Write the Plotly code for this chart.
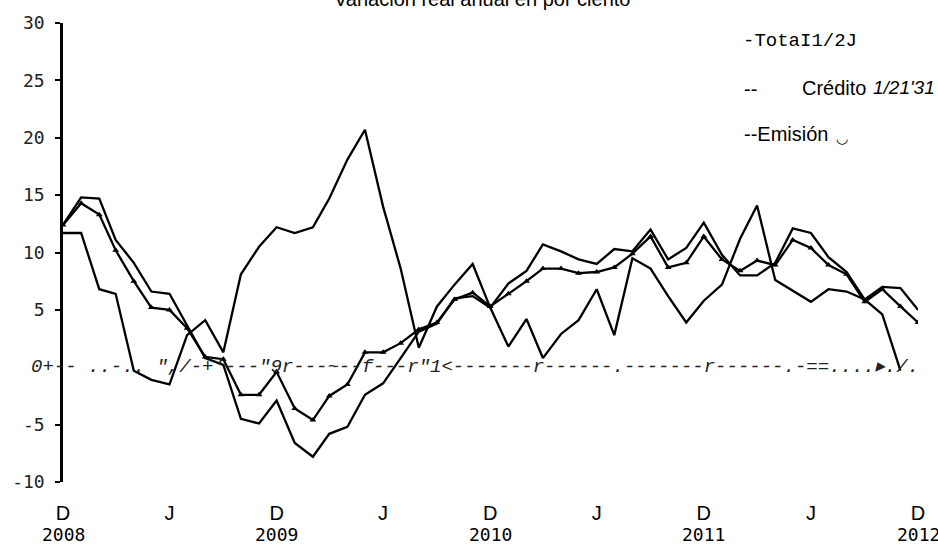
import pandas as pd
import plotly.graph_objects as go

months = pd.date_range("2008-12-01", periods=49, freq="MS")

total = [12.4, 14.3, 13.3, 10.2, 7.5, 5.2, 5.0, 3.4, 0.9, 0.7,
         -2.4, -2.4, -0.4, -3.6, -4.6, -2.5, -1.5, 1.3, 1.3, 2.1,
         3.3, 3.9, 5.9, 6.5, 5.3, 6.4, 7.5, 8.6, 8.6, 8.2,
         8.3, 8.7, 9.9, 11.4, 8.7, 9.1, 11.4, 9.4, 8.4, 9.3,
         8.9, 11.1, 10.4, 8.9, 8.1, 5.7, 6.8, 5.3, 3.9]

credito = [12.4, 14.8, 14.7, 11.1, 9.1, 6.6, 6.4, 3.7, 0.8, 0.2,
           -4.5, -4.9, -2.9, -6.6, -7.8, -5.8, -5.2, -2.4, -1.4, 0.8,
           3.1, 3.8, 6.0, 6.2, 5.2, 7.3, 8.4, 10.7, 10.1, 9.4,
           9.0, 10.3, 10.1, 12.0, 9.4, 10.4, 12.6, 9.8, 8.0, 8.0,
           9.1, 12.1, 11.7, 9.6, 8.3, 5.9, 7.0, 6.9, 5.0]

emision = [11.7, 11.7, 6.8, 6.4, -0.3, -1.1, -1.5, 2.8, 4.1, 1.3,
           8.1, 10.5, 12.2, 11.7, 12.2, 14.7, 18.1, 20.7, 14.0, 8.6,
           1.7, 5.3, 7.2, 9.0, 5.2, 1.8, 4.2, 0.8, 2.9, 4.1,
           6.8, 2.8, 9.5, 8.6, 6.2, 3.9, 5.8, 7.2, 11.2, 14.1,
           7.6, 6.7, 5.7, 6.8, 6.6, 5.9, 4.6, -0.3, None]

tick_dates = ["2008-12-01", "2009-06-01", "2009-12-01", "2010-06-01", "2010-12-01",
              "2011-06-01", "2011-12-01", "2012-06-01", "2012-12-01"]
tick_text = ["D", "J", "D", "J", "D", "J", "D", "J", "D"]
year_dates = ["2008-12-01", "2009-12-01", "2010-12-01", "2011-12-01", "2012-12-01"]
year_text = ["2008", "2009", "2010", "2011", "2012"]
y_ticks = [30, 25, 20, 15, 10, 5, -5, -10]

title = "Variación real anual en por ciento"
zero_text = ("0+--\u00a0..-..\u00a0\",/-+'---\"9r---~--f---r\"1<-------r------.-------r------.-==....▸./.")

W, H = 938, 546
L, R, T, B = 56, 20, 20, 64


def px(xp):
    return (xp - L) / (W - L - R)


def py(yp):
    return (H - B - yp) / (H - T - B)


fig = go.Figure()
line_style = dict(color="black", width=2.3)
fig.add_trace(go.Scatter(x=months, y=credito, mode="lines", line=line_style,
                         name="Crédito", showlegend=False))
fig.add_trace(go.Scatter(x=months, y=emision, mode="lines", line=line_style,
                         name="Emisión", showlegend=False, connectgaps=False))
fig.add_trace(go.Scatter(x=months, y=total, mode="lines+markers", line=line_style,
                         marker=dict(symbol="triangle-up", size=6, color="black"),
                         name="Total", showlegend=False))

ann = []
ann.append(dict(text=title, xref="paper", yref="paper", x=px(478), y=py(9),
                xanchor="center", yanchor="bottom", showarrow=False,
                font=dict(family="Liberation Sans", size=20, color="black")))
ann.append(dict(text="-TotaI1/2J", xref="paper", yref="paper", x=px(740), y=py(38),
                xanchor="left", yanchor="middle", showarrow=False,
                font=dict(family="Liberation Mono", size=19, color="black")))
ann.append(dict(text="--", xref="paper", yref="paper", x=px(741), y=py(86),
                xanchor="left", yanchor="middle", showarrow=False,
                font=dict(family="Liberation Sans", size=20, color="black")))
ann.append(dict(text="Crédito", xref="paper", yref="paper", x=px(799), y=py(85),
                xanchor="left", yanchor="middle", showarrow=False,
                font=dict(family="Liberation Sans", size=20, color="black")))
ann.append(dict(text="<i>1/21'31</i>", xref="paper", yref="paper", x=px(871), y=py(85),
                xanchor="left", yanchor="middle", showarrow=False,
                font=dict(family="Liberation Sans", size=19, color="black")))
ann.append(dict(text="--Emisión", xref="paper", yref="paper", x=px(741), y=py(132),
                xanchor="left", yanchor="middle", showarrow=False,
                font=dict(family="Liberation Sans", size=20, color="black")))
ann.append(dict(text="◡", xref="paper", yref="paper", x=px(841), y=py(136),
                xanchor="center", yanchor="middle", showarrow=False,
                font=dict(family="DejaVu Sans", size=14, color="black")))
ann.append(dict(text="<i>" + zero_text + "</i>", xref="paper", yref="y", x=px(22), y=0,
                xanchor="left", yanchor="middle", showarrow=False,
                font=dict(family="Liberation Mono", size=19, color="#222")))
for d, t in zip(year_dates, year_text):
    ann.append(dict(text=t, xref="x", yref="paper", x=d, y=py(535),
                    xanchor="center", yanchor="middle", showarrow=False,
                    font=dict(family="DejaVu Sans Mono", size=18, color="black")))

fig.update_layout(
    width=W, height=H,
    margin=dict(l=L, r=R, t=T, b=B),
    paper_bgcolor="white", plot_bgcolor="white",
    annotations=ann,
    xaxis=dict(range=[months[0], months[-1]], showgrid=False, zeroline=False,
               showline=False, ticks="", tickmode="array",
               tickvals=tick_dates, ticktext=tick_text,
               tickfont=dict(family="Liberation Sans", size=20, color="black"),
               ticklabelstandoff=17),
    yaxis=dict(range=[-10, 30], showgrid=False, zeroline=False,
               showline=True, linecolor="black", linewidth=2.5,
               ticks="outside", ticklen=5, tickwidth=2, tickcolor="black",
               tickmode="array", tickvals=y_ticks, ticktext=[str(v) for v in y_ticks],
               tickfont=dict(family="DejaVu Sans Mono", size=18, color="#222"),
               ticklabelstandoff=7),
)

fig.write_html("out.html", config={"displayModeBar": False},
               post_script="document.body.style.margin='0';document.body.style.padding='0';")
